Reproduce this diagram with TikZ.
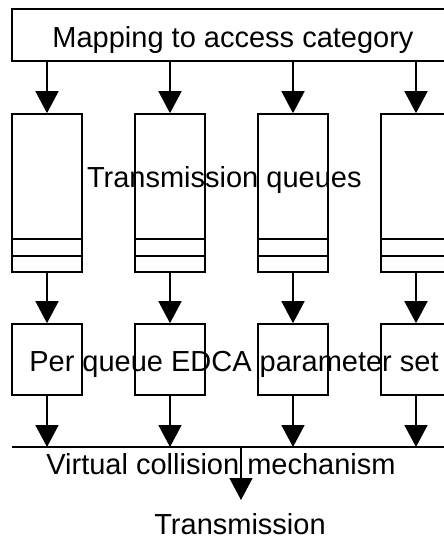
\documentclass[tikz,border=0pt]{standalone}
\usepackage{fontspec}
\setmainfont{Liberation Sans}
\usetikzlibrary{arrows.meta}

\begin{document}
\begin{tikzpicture}[x=1pt, y=-1pt, line width=1.6pt,
    arr/.style={-{Triangle[width=23pt,length=22pt]}},
    box/.style={draw, inner sep=0pt},
    txt/.style={anchor=base, inner sep=0pt, font=\fontsize{29}{34}\selectfont}]
    % Page frame
    \useasboundingbox (0,0) rectangle (444,539);
    \clip (0,0) rectangle (444,539);

    % Mapping to access category
    \node[box, minimum width=456pt, minimum height=52pt] (map) at (240,35) {};
    \node[txt] (maptxt) at (233,47) {Mapping to access category};

    % Line of the virtual collision mechanism
    \coordinate (busw) at (12,447);
    \coordinate (buse) at (470,447);
    \draw (busw) -- (buse);

    % Queues and per queue parameter sets
    \foreach \i/\x in {1/47,2/170,3/293,4/416} {
        \node[box, minimum width=70pt, minimum height=158pt] (q\i) at (\x,193) {};
        \draw (q\i.south west) ++(0,-17) -- ++(70,0);
        \draw (q\i.south west) ++(0,-34) -- ++(70,0);
        \node[box, minimum width=70pt, minimum height=71pt] (e\i) at (\x,359.5) {};
        \draw[arr] (map.south -| q\i.north) -- (q\i.north);
        \draw[arr] (q\i) -- (e\i);
        \draw[arr] (e\i) -- (e\i.south |- busw);
    }

    % Output of the collision mechanism
    \coordinate (vc) at (241,447);
    \coordinate (vcout) at (241,500);
    \draw[arr] (vc) -- (vcout);

    % Labels
    \node[txt] (tq) at (224.3,187.5) {Transmission queues};
    \node[txt] (edca) at (234,371.7) {Per queue EDCA parameter set};
    \node[txt] (vcm) at (221,474) {Virtual collision mechanism};
    \node[txt] (tx) at (240,534) {Transmission};
\end{tikzpicture}
\end{document}
